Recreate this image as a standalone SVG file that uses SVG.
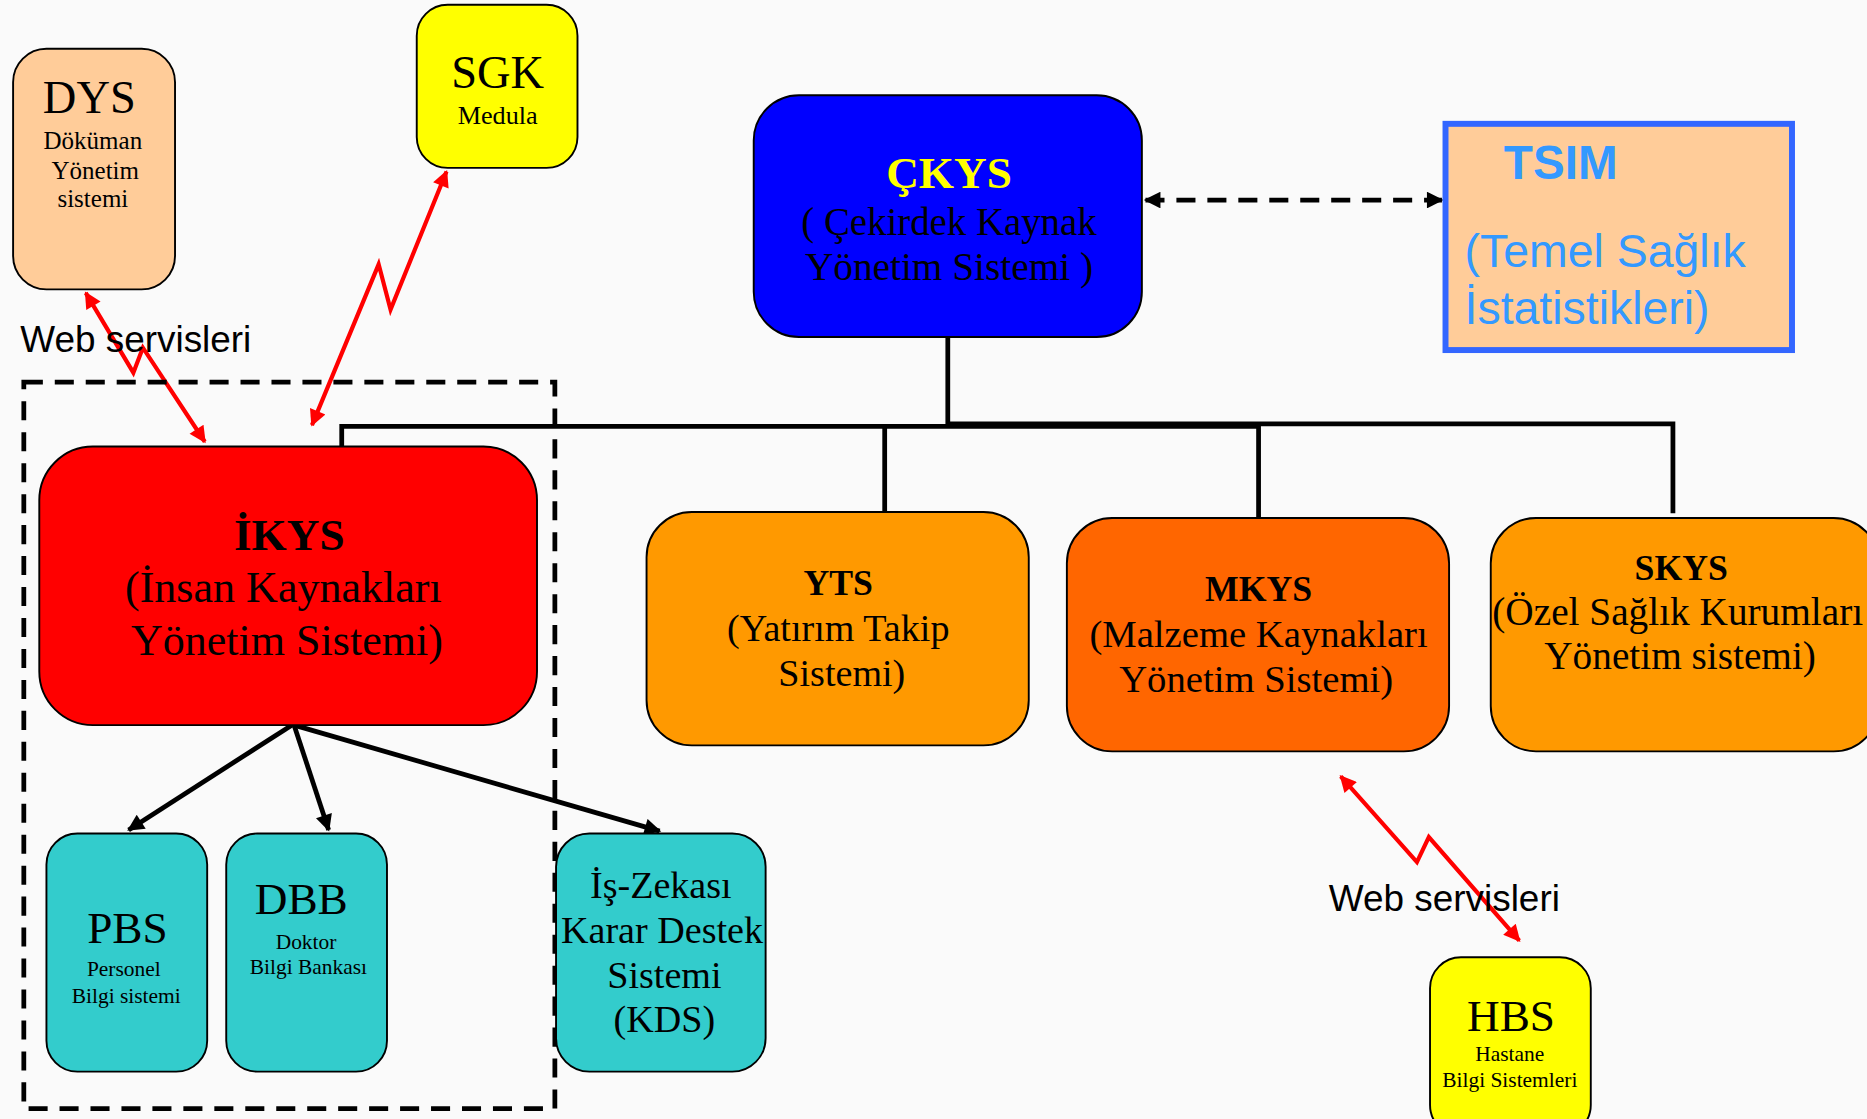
<svg xmlns="http://www.w3.org/2000/svg" width="1867" height="1119" viewBox="0 0 1867 1119">
<style>
.box{stroke:#000;stroke-width:1.6}
.serif{font-family:"Liberation Serif","Times New Roman",serif;fill:#000;text-anchor:middle}
.sans{font-family:"Liberation Sans",Arial,sans-serif}
.b{font-weight:bold}
.red{fill:none;stroke:#FF0000;stroke-width:3.5;stroke-linejoin:miter}
.blk{fill:none;stroke:#000;stroke-width:4}
</style>
<defs>
<marker id="ra" viewBox="0 0 10 10" refX="9" refY="5" markerWidth="19" markerHeight="14" markerUnits="userSpaceOnUse" orient="auto-start-reverse"><path d="M0,0 L10,5 L0,10 z" fill="#FF0000"/></marker>
<marker id="ba" viewBox="0 0 10 10" refX="9" refY="5" markerWidth="16" markerHeight="14" markerUnits="userSpaceOnUse" orient="auto-start-reverse"><path d="M0,0 L10,5 L0,10 z" fill="#000"/></marker>
</defs>
<rect width="1867" height="1119" fill="#FAFAFA"/>
<g transform="scale(1.1907)">
<g id="connectors">
<path class="red" d="M72,246 L112,313 L120,292 L172,371" marker-start="url(#ra)" marker-end="url(#ra)"/>
<path class="red" d="M262,357 L318,222 L328,260 L375,144" marker-start="url(#ra)" marker-end="url(#ra)"/>
<path class="red" d="M1126,652 L1190,724 L1200,703 L1276,790" marker-start="url(#ra)" marker-end="url(#ra)"/>
<path class="blk" d="M962,168 L1211,168" stroke-dasharray="16,10" marker-start="url(#ba)" marker-end="url(#ba)"/>
<path class="blk" d="M287,375 L287,358 L1058,358"/>
<path class="blk" d="M796,283 L796,357"/>
<path class="blk" stroke-width="5" d="M796,356 L1405,356 L1405,431"/>
<path class="blk" d="M743,358 L743,431"/>
<path class="blk" d="M1057,356 L1057,436"/>
<path class="blk" d="M245,609 L108,697" marker-end="url(#ba)"/>
<path class="blk" d="M247,609 L276,697" marker-end="url(#ba)"/>
<path class="blk" d="M247,609 L554,698" marker-end="url(#ba)"/>
</g>
<g id="group-ikys">
<rect x="20" y="321" width="446" height="610" fill="none" stroke="#000" stroke-width="4" stroke-dasharray="16,10"/>
</g>
<text class="sans" x="17" y="296" font-size="31" fill="#000">Web servisleri</text>
<text class="sans" x="1116" y="765" font-size="31" fill="#000">Web servisleri</text>
<g id="dys">
<rect class="box" x="11" y="41" width="136" height="202" rx="28" fill="#FFCC99"/>
<text class="serif" x="75" y="95" font-size="39">DYS</text>
<text class="serif" x="78" y="125" font-size="21">Döküman</text>
<text class="serif" x="80" y="150" font-size="21">Yönetim</text>
<text class="serif" x="78" y="174" font-size="21">sistemi</text>
</g>
<g id="sgk">
<rect class="box" x="350" y="4" width="135" height="137" rx="26" fill="#FFFF00"/>
<text class="serif" x="418" y="74" font-size="39">SGK</text>
<text class="serif" x="418" y="104" font-size="22">Medula</text>
</g>
<g id="ckys">
<rect class="box" x="633" y="80" width="326" height="203" rx="38" fill="#0000FF"/>
<text class="serif b" x="797" y="158" font-size="38" style="fill:#FFFF00">ÇKYS</text>
<text class="serif" x="797" y="197" font-size="33" textLength="248" lengthAdjust="spacingAndGlyphs">( Çekirdek Kaynak</text>
<text class="serif" x="797" y="235" font-size="33" textLength="242" lengthAdjust="spacingAndGlyphs">Yönetim Sistemi )</text>
</g>
<g id="tsim">
<rect x="1214" y="104" width="291" height="190" fill="#FFCC99" stroke="#3366FF" stroke-width="5"/>
<text class="sans b" x="1263" y="150" font-size="40" fill="#3399FF">TSIM</text>
<text class="sans" x="1230" y="224" font-size="39" fill="#3399FF">(Temel Sağlık</text>
<text class="sans" x="1230" y="272" font-size="39" fill="#3399FF">İstatistikleri)</text>
</g>
<g id="ikys">
<rect class="box" x="33" y="375" width="418" height="234" rx="45" fill="#FF0000"/>
<text class="serif b" x="243" y="462" font-size="38">İKYS</text>
<text class="serif" x="238" y="506" font-size="37">(İnsan Kaynakları</text>
<text class="serif" x="241" y="550" font-size="37">Yönetim Sistemi)</text>
</g>
<g id="yts">
<rect class="box" x="543" y="430" width="321" height="196" rx="38" fill="#FF9900"/>
<text class="serif b" x="704" y="500" font-size="30">YTS</text>
<text class="serif" x="704" y="538" font-size="32">(Yatırım Takip</text>
<text class="serif" x="707" y="576" font-size="32">Sistemi)</text>
</g>
<g id="mkys">
<rect class="box" x="896" y="435" width="321" height="196" rx="38" fill="#FF6600"/>
<text class="serif b" x="1057" y="505" font-size="30">MKYS</text>
<text class="serif" x="1057" y="543" font-size="32.5">(Malzeme Kaynakları</text>
<text class="serif" x="1055" y="581" font-size="32.5">Yönetim Sistemi)</text>
</g>
<g id="skys">
<rect class="box" x="1252" y="435" width="326" height="196" rx="38" fill="#FF9900"/>
<text class="serif b" x="1412" y="487" font-size="30">SKYS</text>
<text class="serif" x="1409" y="525" font-size="33">(Özel Sağlık Kurumları</text>
<text class="serif" x="1411" y="562" font-size="33">Yönetim sistemi)</text>
</g>
<g id="pbs">
<rect class="box" x="39" y="700" width="135" height="200" rx="26" fill="#33CCCC"/>
<text class="serif" x="107" y="792" font-size="38">PBS</text>
<text class="serif" x="104" y="820" font-size="18">Personel</text>
<text class="serif" x="106" y="842" font-size="18">Bilgi sistemi</text>
</g>
<g id="dbb">
<rect class="box" x="190" y="700" width="135" height="200" rx="26" fill="#33CCCC"/>
<text class="serif" x="253" y="768" font-size="38">DBB</text>
<text class="serif" x="257" y="797" font-size="18">Doktor</text>
<text class="serif" x="259" y="818" font-size="18">Bilgi Bankası</text>
</g>
<g id="kds">
<rect class="box" x="467" y="700" width="176" height="200" rx="28" fill="#33CCCC"/>
<text class="serif" x="555" y="754" font-size="32">İş-Zekası</text>
<text class="serif" x="556" y="792" font-size="32">Karar Destek</text>
<text class="serif" x="558" y="830" font-size="32">Sistemi</text>
<text class="serif" x="558" y="867" font-size="32">(KDS)</text>
</g>
<g id="hbs">
<rect class="box" x="1201" y="804" width="135" height="150" rx="26" fill="#FFFF00"/>
<text class="serif" x="1269" y="866" font-size="38">HBS</text>
<text class="serif" x="1268" y="891" font-size="18">Hastane</text>
<text class="serif" x="1268" y="913" font-size="18">Bilgi Sistemleri</text>
</g>
</g>
</svg>
